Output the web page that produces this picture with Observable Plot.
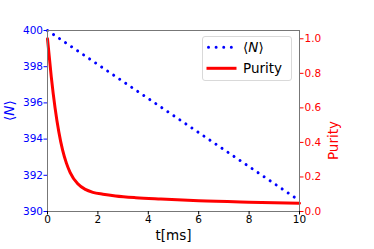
<!DOCTYPE html>
<html><head><meta charset="utf-8">
<script src="https://cdn.jsdelivr.net/npm/d3@7"></script>
<script src="https://cdn.jsdelivr.net/npm/@observablehq/plot@0.6"></script>
<style>
body{margin:0;background:#fff;}
#wrap{position:relative;width:374px;height:249px;font-family:"DejaVu Sans",sans-serif;}
#legend{position:absolute;left:202px;top:36px;width:90px;height:45px;box-sizing:border-box;border:1px solid #d9d9d9;border-radius:3px;background:rgba(255,255,255,0.8);}
#legend svg{position:absolute;left:-1px;top:-1px;overflow:visible;}
</style></head><body>
<div id="wrap"><div id="legend"></div></div>
<script>
// data
const tN = [0, 10];
const nValues = [400, 390.6];
const tPurity = [0, 0.15, 0.3, 0.45, 0.6, 0.75, 0.9, 1.2, 1.5, 1.8, 2.2, 2.7, 3.5, 4.5, 6, 8, 10];
const purityValues = [1.0, 0.78, 0.6, 0.46, 0.355, 0.28, 0.225, 0.16, 0.128, 0.111, 0.1, 0.09, 0.08, 0.072, 0.062, 0.054, 0.048];
const xTicks = [0, 2, 4, 6, 8, 10];
const nTicks = [390, 392, 394, 396, 398, 400];
const purityTicks = [0, 0.2, 0.4, 0.6, 0.8, 1.0];
const purityTickLabels = ["0.0", "0.2", "0.4", "0.6", "0.8", "1.0"];
const nDomain = [390, 400];
const purityDomain = [0, 1.048];
const seriesNames = ["⟨N⟩", "Purity"];
const seriesColors = ["blue", "red"];

const toLeft = p => nDomain[0] + (p - purityDomain[0]) * (nDomain[1] - nDomain[0]) / (purityDomain[1] - purityDomain[0]);
const nData = tN.map((t, i) => ({t, v: nValues[i]}));
const pData = tPurity.map((t, i) => ({t, v: purityValues[i]}));
const pTickMap = new Map(purityTicks.map((p, i) => [toLeft(p), purityTickLabels[i]]));

const chart = Plot.plot({
  width: 374, height: 249,
  marginLeft: 47, marginRight: 75, marginTop: 30, marginBottom: 38,
  style: {fontFamily: "DejaVu Sans", fontSize: "10.5px", background: "transparent"},
  x: {domain: [0, 10], label: null},
  y: {domain: nDomain, label: null},
  marks: [
    Plot.line(pData, {x: "t", y: d => toLeft(d.v), stroke: seriesColors[1], strokeWidth: 3, curve: "monotone-x"}),
    Plot.line(nData, {x: "t", y: "v", stroke: seriesColors[0], strokeWidth: 3, strokeDasharray: "0.01,7.25", strokeLinecap: "round"}),
    Plot.frame({stroke: "#777", strokeWidth: 1}),
    Plot.axisX(xTicks, {tickSize: 3.5, tickPadding: 0.5, color: "black", label: null, fontSize: 10.5}),
    Plot.axisY(nTicks, {anchor: "left", tickSize: 3.5, tickPadding: 1, color: seriesColors[0], label: null, fontSize: 10.5}),
    Plot.axisY(purityTicks.map(toLeft), {anchor: "right", tickSize: 3.5, tickPadding: 1.5, color: seriesColors[1], label: null, fontSize: 10.5,
      tickFormat: d => pTickMap.get(d)}),
    Plot.text(["t[ms]"], {frameAnchor: "bottom", dy: 28.5, lineAnchor: "bottom", fontSize: 13.5, fill: "black"}),
    Plot.text([seriesNames[0]], {frameAnchor: "left", dx: -33.5, rotate: -90, lineAnchor: "bottom", fontSize: 13.5, fill: seriesColors[0]}),
    Plot.text([seriesNames[1]], {frameAnchor: "right", dx: 38, rotate: -90, lineAnchor: "bottom", fontSize: 13.5, fill: seriesColors[1]})
  ]
});
document.getElementById("wrap").prepend(chart);

// italic N in ⟨N⟩
d3.select(chart).selectAll("text").filter(function() { return this.textContent === "⟨N⟩"; })
  .html('⟨<tspan font-style="italic">N</tspan>⟩');

// legend
const lg = d3.select("#legend").append("svg").attr("width", 90).attr("height", 45);
const rows = [
  {name: seriesNames[0], color: seriesColors[0], dash: "0.01,7.6", cap: "round", width: 3, y: 11.3, x1: 6.5, x2: 32},
  {name: seriesNames[1], color: seriesColors[1], dash: null, cap: "butt", width: 3, y: 32.3, x1: 4.5, x2: 34.5}
];
rows.forEach(r => {
  lg.append("line").attr("x1", r.x1).attr("x2", r.x2).attr("y1", r.y).attr("y2", r.y)
    .attr("stroke", r.color).attr("stroke-width", r.width).attr("stroke-dasharray", r.dash)
    .attr("stroke-linecap", r.cap);
  const t = lg.append("text").attr("x", 41).attr("y", r.y + 5).attr("font-size", 13.5)
    .attr("font-family", "DejaVu Sans").attr("fill", "black");
  if (r.name === "⟨N⟩") t.html('⟨<tspan font-style="italic">N</tspan>⟩'); else t.text(r.name);
});
</script>
</body></html>
